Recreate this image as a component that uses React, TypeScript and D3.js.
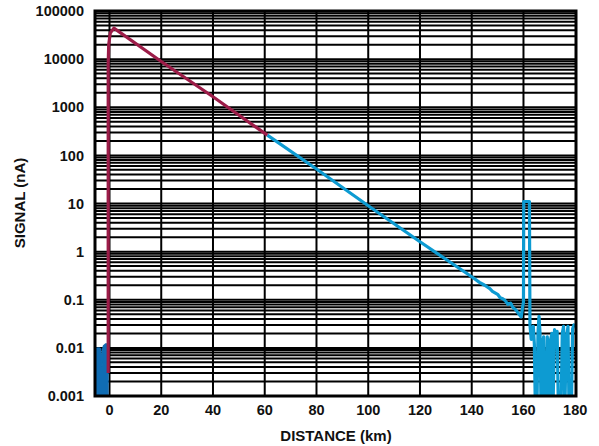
import React from "react";
import * as d3 from "d3";

const W = 599;
const H = 446;
const M = { left: 95, right: 576, top: 11, bottom: 396 };

const xTicks = [0, 20, 40, 60, 80, 100, 120, 140, 160, 180];
const yTicks = [0.001, 0.01, 0.1, 1, 10, 100, 1000, 10000, 100000];
const yTickLabels = ["0.001", "0.01", "0.1", "1", "10", "100", "1000", "10000", "100000"];

// Noise floor before the launch (dark blue)
const preX = [-5.6, -5.0, -4.0, -3.4, -3.1, -2.9, -2.6, -2.3, -1.5, -0.6];
const preY = [0.0085, 0.0098, 0.0099, 0.0095, 0.005, 0.004, 0.0095, 0.011, 0.012, 0.012];

// Launch and first section of the trace (red)
const redX = [-0.5, -0.5, -0.3, 0.3, 1.7, 20, 40, 61];
const redY = [0.003, 8000, 20000, 35000, 44000, 8900, 1650, 263];

// Remaining trace with end reflection and noise (light blue)
const blueX = [61, 80, 100, 120, 140, 143, 145, 147, 148, 150, 151, 152, 153, 154, 155, 156, 157, 158.3, 159.1, 160, 160.1, 162.3, 162.5, 163, 163.4, 163.8, 164.2, 164.6, 165.2, 165.6, 166, 166.4, 166.8, 167.3, 167.8, 168.2, 168.8, 169.2, 169.6, 170, 170.5, 171, 171.4, 172, 172.5, 173, 173.5, 174.5, 175, 175.5, 176, 176.5, 177.2, 177.6, 178.5, 179, 179.5, 180];
const blueY = [263, 52, 9, 1.6, 0.3, 0.23, 0.2, 0.17, 0.15, 0.13, 0.11, 0.105, 0.095, 0.08, 0.085, 0.068, 0.062, 0.05, 0.044, 0.09, 11, 11, 0.03, 0.015, 0.02, 0.028, 0.012, 0.0005, 0.0005, 0.02, 0.045, 0.02, 0.0005, 0.012, 0.017, 0.0005, 0.0005, 0.017, 0.01, 0.0005, 0.015, 0.02, 0.0005, 0.024, 0.011, 0.022, 0.0005, 0.0005, 0.02, 0.028, 0.0005, 0.015, 0.028, 0.0005, 0.0005, 0.025, 0.03, 0.028];

const RED = "#9c1c48";
const BLUE = "#0d9bd2";
const DARK = "#106db4";

export default function App() {
  const x = d3.scaleLinear().domain([-5.6, 180.3]).range([M.left, M.right]);
  const y = d3.scaleLog().domain([0.001, 100000]).range([M.bottom, M.top]);

  const minor: number[] = [];
  for (let e = -3; e < 5; e++) {
    for (let k = 1; k <= 9; k++) minor.push(k * Math.pow(10, e));
  }
  minor.push(100000);

  const line = d3
    .line<[number, number]>()
    .x((d) => x(d[0]))
    .y((d) => y(d[1]));

  const area = d3
    .area<[number, number]>()
    .x((d) => x(d[0]))
    .y0(() => y(0.001))
    .y1((d) => y(d[1]));

  const pre = preX.map((v, i) => [v, preY[i]] as [number, number]);
  const red = redX.map((v, i) => [v, redY[i]] as [number, number]);
  const blue = blueX.map((v, i) => [v, blueY[i]] as [number, number]);

  const font = "'Liberation Sans', Arial, sans-serif";

  return (
    <svg
      width={W}
      height={H}
      style={{ position: "absolute", left: 0, top: 0, display: "block", background: "#fff" }}
    >
      <defs>
        <clipPath id="plot">
          <rect x={M.left} y={M.top} width={M.right - M.left} height={M.bottom - M.top} />
        </clipPath>
      </defs>
      {minor.map((v, i) => (
        <line
          key={"h" + i}
          x1={M.left}
          x2={M.right}
          y1={y(v)}
          y2={y(v)}
          stroke="#000"
          strokeWidth={2}
        />
      ))}
      {xTicks.slice(0, -1).map((v) => (
        <line
          key={"v" + v}
          x1={x(v)}
          x2={x(v)}
          y1={M.top}
          y2={M.bottom}
          stroke="#000"
          strokeWidth={2}
        />
      ))}
      <g clipPath="url(#plot)">
        <path d={area(pre) || ""} fill={DARK} stroke={DARK} strokeWidth={1.5} />
        <path d={line(blue) || ""} fill="none" stroke={BLUE} strokeWidth={3.2} strokeLinejoin="round" />
        <path d={line(red) || ""} fill="none" stroke={RED} strokeWidth={3.2} strokeLinejoin="round" />
      </g>
      <rect
        x={M.left}
        y={M.top}
        width={M.right - M.left}
        height={M.bottom - M.top}
        fill="none"
        stroke="#000"
        strokeWidth={3}
      />
      {yTicks.map((v, i) => (
        <text
          key={"yl" + i}
          x={84}
          y={y(v)}
          dy="0.36em"
          textAnchor="end"
          fontFamily={font}
          fontWeight="bold"
          fontSize={14.5}
          fill="#111"
        >
          {yTickLabels[i]}
        </text>
      ))}
      {xTicks.map((v) => (
        <text
          key={"xl" + v}
          x={x(v)}
          y={415}
          textAnchor="middle"
          fontFamily={font}
          fontWeight="bold"
          fontSize={14.5}
          fill="#111"
        >
          {v}
        </text>
      ))}
      <text
        x={336}
        y={441}
        textAnchor="middle"
        fontFamily={font}
        fontWeight="bold"
        fontSize={15}
        fill="#111"
      >
        DISTANCE (km)
      </text>
      <text
        transform={`translate(25,${203}) rotate(-90)`}
        textAnchor="middle"
        fontFamily={font}
        fontWeight="bold"
        fontSize={15}
        fill="#111"
      >
        SIGNAL (nA)
      </text>
    </svg>
  );
}
